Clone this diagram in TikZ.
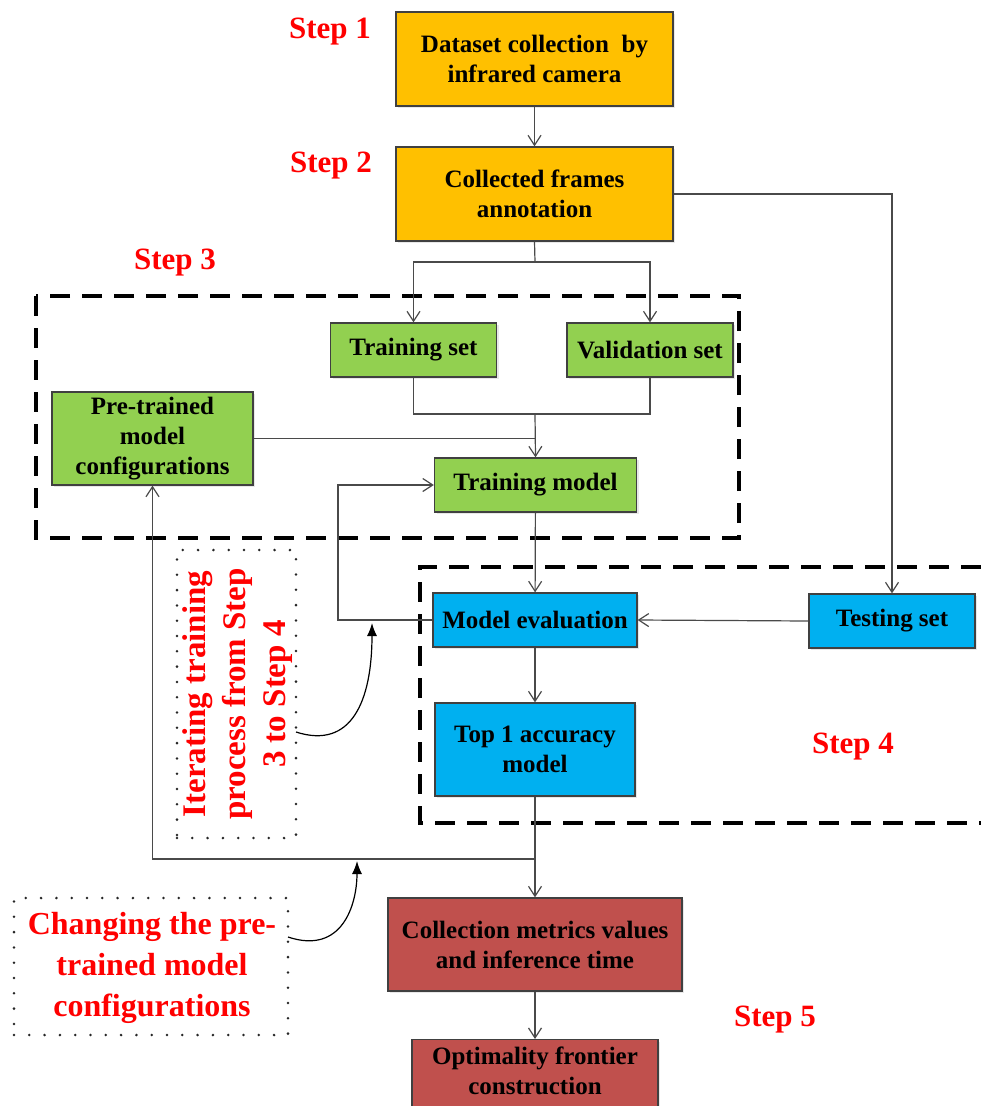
\documentclass[tikz,border=0pt]{standalone}
\usepackage{fontspec}
\setmainfont{Liberation Serif}
\usetikzlibrary{arrows.meta,shadows}
\definecolor{boxorange}{HTML}{FFC000}
\definecolor{boxgreen}{HTML}{92D050}
\definecolor{boxblue}{HTML}{00B0F0}
\definecolor{boxbrick}{HTML}{C0504D}
\definecolor{linegray}{HTML}{4A4A4A}
\definecolor{labelred}{HTML}{FF0000}
\tikzset{
  boxfont/.style={font=\fontsize{25}{30}\selectfont\bfseries, align=center},
  stepbox/.style={draw=black!75, line width=1.3pt, inner sep=0pt, boxfont,
    drop shadow={opacity=0.18, shadow xshift=2pt, shadow yshift=-2pt}},
  arr/.style={draw=linegray, line width=1.2pt,
    -{Straight Barb[length=10pt,width=13pt,line width=1.2pt]}},
  plain/.style={draw=linegray, line width=1.2pt},
  steplabel/.style={text=labelred, font=\fontsize{31}{36}\selectfont\bfseries},
  annot/.style={text=labelred, align=center, font=\fontsize{32}{41}\selectfont\bfseries},
  groupframe/.style={draw=black, line width=3.5pt, dash pattern=on 20pt off 12pt},
  dotframe/.style={draw=black!85, line width=2.8pt, line cap=round,
    dash pattern=on 0pt off 15.3pt, inner sep=0pt},
  curv/.style={draw=black, line width=1.2pt, -{Latex[length=13pt,width=10pt]}}
}
\begin{document}
\begin{tikzpicture}[x=1pt,y=-1pt]
\useasboundingbox (0,0) rectangle (981,1106);
\clip (0,0) rectangle (981,1106);
\fill[white] (0,0) rectangle (981,1106);

% group frames for steps 3 and 4
\draw[groupframe] (36,296) rectangle (739,538);
\draw[groupframe] (981,567) -- (420,567) -- (420,823) -- (981,823);

% process boxes
\node[stepbox, fill=boxorange, minimum width=277, minimum height=94] (d1) at (534.5,59)
  {Dataset collection\ \ by\\infrared camera};
\node[stepbox, fill=boxorange, minimum width=277, minimum height=94] (d2) at (534.5,194)
  {Collected frames\\annotation};
\node[stepbox, fill=boxgreen, minimum width=166, minimum height=54] (tr) at (413.5,350)
  {Training set};
\node[stepbox, fill=boxgreen, minimum width=166, minimum height=54] (va) at (650,350)
  {Validation set};
\node[stepbox, fill=boxgreen, minimum width=201, minimum height=93] (pre) at (152.5,438.5)
  {Pre-trained\\model\\configurations};
\node[stepbox, fill=boxgreen, minimum width=202, minimum height=54] (tm) at (535.5,485)
  {Training model};
\node[stepbox, fill=boxblue, minimum width=204, minimum height=54] (me) at (535,620)
  {Model evaluation};
\node[stepbox, fill=boxblue, minimum width=166, minimum height=54] (ts) at (892,621)
  {Testing set};
\node[stepbox, fill=boxblue, minimum width=200, minimum height=93] (top) at (535,749.5)
  {Top 1 accuracy\\model};
\node[stepbox, fill=boxbrick, minimum width=294, minimum height=93] (col) at (535,944.5)
  {Collection metrics values\\and inference time};
\node[stepbox, fill=boxbrick, minimum width=246, minimum height=93, anchor=north] (opt) at (535,1039) {};
\node[boxfont] (opttxt) at (535,1071) {Optimality frontier\\construction};

% step labels
\node[steplabel] (s1) at (330,32) {Step 1};
\node[steplabel] (s2) at (331,166) {Step 2};
\node[steplabel] (s3) at (175,263) {Step 3};
\node[steplabel] (s4) at (853,747) {Step 4};
\node[steplabel] (s5) at (775,1020) {Step 5};

% dotted annotation boxes
\node[dotframe, minimum width=119, minimum height=288] (iter) at (236.5,694) {};
\node[annot, rotate=90, font=\fontsize{33}{40}\selectfont\bfseries] (itertxt) at (238,694)
  {Iterating training\\process from Step\\3 to Step 4};
\node[dotframe, minimum width=274, minimum height=137] (chg) at (151,966.5) {};
\node[annot] (chgtxt) at (152,968)
  {Changing the pre-\\trained model\\configurations};

% junction points
\coordinate (sp) at (535,262);
\coordinate (jn) at (535,414);
\coordinate (lp) at (338,620);
\coordinate (jb) at (535,859);
\coordinate (c1s) at (296,732);
\coordinate (c1e) at (372,623);
\coordinate (c2s) at (288,937);
\coordinate (c2e) at (357,861);

% connectors
\draw[arr] (d1) -- (d2);
\draw[plain] (d2.south) -- (sp);
\draw[arr] (sp) -| (tr.north);
\draw[arr] (sp) -| (va.north);
\draw[arr] (d2.east) -| (ts.north);
\draw[plain] (tr.south) |- (jn) -| (va.south);
\draw[plain] (pre.east) -- (pre.east -| jn);
\draw[arr] (jn) -- (tm.north);
\draw[arr] (tm) -- (me);
\draw[arr] (me.west) -- (lp) |- (tm.west);
\draw[arr] (ts.west) -- (me.east);
\draw[arr] (me) -- (top);
\draw[plain] (top.south) -- (jb);
\draw[arr] (jb) -- (col.north);
\draw[arr] (jb) -| (pre.south);
\draw[arr] (col) -- (opt);

% curved pointers from the annotations
\draw[curv] (c1s) .. controls (352,750) and (372,700) .. (c1e);
\draw[curv] (c2s) .. controls (342,955) and (357,905) .. (c2e);
\end{tikzpicture}
\end{document}
